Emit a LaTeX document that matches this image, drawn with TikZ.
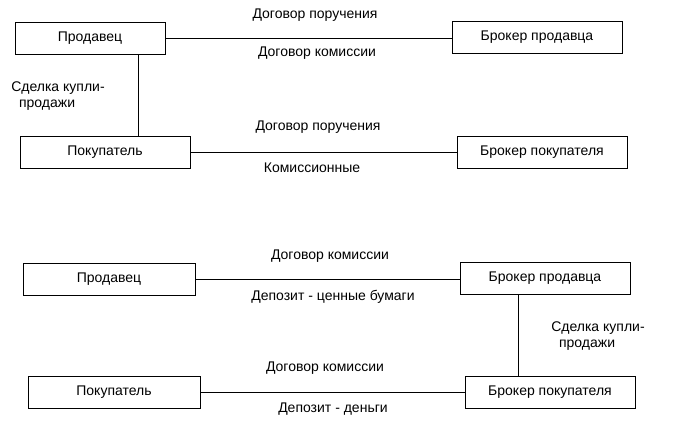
\documentclass[tikz,border=0pt]{standalone}
\usepackage{fontspec}
\setmainfont{Liberation Sans}
\begin{document}
\begin{tikzpicture}[x=1pt,y=-1pt]
        \tikzset{
        box/.style={draw, minimum width=170pt, minimum height=32pt, inner sep=0pt, font=\fontsize{14}{16}\selectfont},
        lbl/.style={font=\fontsize{14}{16}\selectfont, inner sep=0pt},
        ln/.style={-, line width=0.6pt}
        }
        \useasboundingbox (0,0) rectangle (682,432);
        % upper scheme
        \node[box, minimum width=150pt] (s1) at (90,38) {Продавец};
        \node[box] (bs1) at (537,37) {Брокер продавца};
        \node[box] (p1) at (105,152) {Покупатель};
        \node[box] (bp1) at (542,152) {Брокер покупателя};
        
        \draw[ln] (s1.east) -- (s1.east -| bs1.west);
        \draw[ln] ([xshift=48pt]s1.south) -- ([xshift=33pt]p1.north);
        \draw[ln] (p1.east) -- (p1.east -| bp1.west);
        
        \node[lbl] at (315,15) {Договор поручения};
        \node[lbl] at (317,53) {Договор комиссии};
        \node[lbl, align=left] at (58,96) {Сделка купли-\\\ \ продажи};
        \node[lbl] at (318,127) {Договор поручения};
        \node[lbl] at (312,168) {Комиссионные};
        
        % lower scheme
        \node[box, minimum width=172pt] (s2) at (109,279) {Продавец};
        \node[box] (bs2) at (545,278) {Брокер продавца};
        \node[box, minimum width=172pt] (p2) at (114,392) {Покупатель};
        \node[box] (bp2) at (550,392) {Брокер покупателя};
        
        \draw[ln] (s2.east) -- (s2.east -| bs2.west);
        \draw[ln] ([xshift=-27pt]bs2.south) -- ([xshift=-32pt]bp2.north);
        \draw[ln] (p2.east) -- (p2.east -| bp2.west);
        
        \node[lbl] at (330,256) {Договор комиссии};
        \node[lbl] at (333,297) {Депозит - ценные бумаги};
        \node[lbl, align=left] at (598,336) {Сделка купли-\\\ \ продажи};
        \node[lbl] at (325,368) {Договор комиссии};
        \node[lbl] at (333,409) {Депозит - деньги};
\end{tikzpicture}
\end{document}
